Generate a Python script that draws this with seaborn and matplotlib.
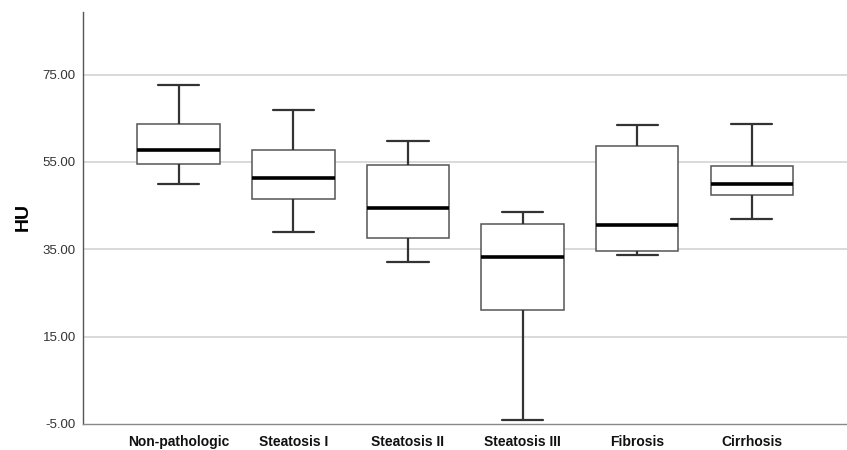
import matplotlib
matplotlib.use("Agg")
import matplotlib.pyplot as plt
import seaborn as sns
import pandas as pd
import numpy as np

categories = ["Non-pathologic", "Steatosis I", "Steatosis II", "Steatosis III", "Fibrosis", "Cirrhosis"]
# five-number summaries: whisker low, Q1, median, Q3, whisker high
w_low  = [50.0, 38.9, 32.2, -4.1, 33.6, 41.9]
q1     = [54.5, 46.5, 37.6, 21.05, 34.5, 47.5]
median = [57.65, 51.3, 44.5, 33.15, 40.5, 50.05]
q3     = [63.7, 57.8, 54.2, 40.8, 58.65, 54.1]
w_high = [72.6, 66.9, 59.9, 43.65, 63.4, 63.7]
yticks = [-5, 15, 35, 55, 75]

rows = []
for i, c in enumerate(categories):
    for v in (w_low[i], q1[i], median[i], q3[i], w_high[i]):
        rows.append({"group": c, "HU": v})
df = pd.DataFrame(rows)

sns.set_theme(style="white")
plt.rcParams["font.family"] = ["Liberation Sans", "DejaVu Sans"]

fig = plt.figure(figsize=(8.47, 4.5), dpi=100)
ax = fig.add_axes([82.7 / 847, 26 / 450, 1 - 82.7 / 847, (424 - 11.7) / 450])

sns.boxplot(data=df, x="group", y="HU", order=categories, whis=(0, 100), width=0.72,
            color="white", saturation=1, linecolor="#444444", linewidth=1.2,
            medianprops=dict(color="black", linewidth=2.6),
            whiskerprops=dict(color="#333333", linewidth=1.6),
            capprops=dict(color="#333333", linewidth=1.6),
            boxprops=dict(edgecolor="#555555", linewidth=1.1, facecolor="white"),
            ax=ax, zorder=3)

ax.set_xlim(-0.837, 5.83)
ax.set_ylim(-5, 89.4)
ax.set_yticks(yticks)
ax.set_yticklabels([f"{t:.2f}" for t in yticks], fontsize=9.5, color="#333333")
for t in yticks[1:]:
    ax.axhline(t, color="#cfcfcf", linewidth=1.1, zorder=1)
ax.tick_params(axis="both", length=0, pad=5)
ax.set_xticks(range(len(categories)))
ax.set_xticklabels(categories, fontsize=10, fontweight="bold", color="#111111")
ax.tick_params(axis="x", pad=8)
ax.set_xlabel("")
ax.set_ylabel("HU", fontsize=14, fontweight="bold", color="black")
ax.yaxis.set_label_coords((32 - 82.7) / 764.3, 0.503)
for s in ["top", "right"]:
    ax.spines[s].set_visible(False)
ax.spines["left"].set_color("#555555")
ax.spines["bottom"].set_color("#888888")
ax.spines["left"].set_linewidth(1.0)
ax.spines["bottom"].set_linewidth(1.0)

fig.savefig("out.png", dpi=100)
